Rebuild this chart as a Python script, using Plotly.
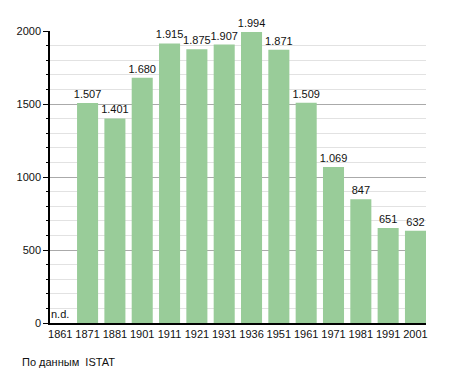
import plotly.graph_objects as go

years = ["1861", "1871", "1881", "1901", "1911", "1921", "1931", "1936",
         "1951", "1961", "1971", "1981", "1991", "2001"]
population = [None, 1507, 1401, 1680, 1915, 1875, 1907, 1994,
              1871, 1509, 1069, 847, 651, 632]
labels = ["n.d.", "1.507", "1.401", "1.680", "1.915", "1.875", "1.907", "1.994",
          "1.871", "1.509", "1.069", "847", "651", "632"]
source_note = "По данным  ISTAT"

FONT = "Liberation Sans, Arial, sans-serif"

# page body has an 8px margin, so the figure is drawn 8px in from the corner
W, H = 447, 365
L, T, PW, PH = 42, 23, 376, 292

fig = go.Figure()
fig.add_trace(go.Bar(
    x=years, y=population,
    text=[l if v is not None else "" for l, v in zip(labels, population)],
    textposition="outside",
    constraintext="none",
    textfont=dict(size=11, color="#111", family=FONT),
    marker=dict(color="#99CC99", line=dict(width=0)),
    cliponaxis=False,
    hoverinfo="skip",
))
for i, (v, l) in enumerate(zip(population, labels)):
    if v is None:
        fig.add_annotation(x=i, y=0, xref="x", yref="y", text=l, showarrow=False,
                           yanchor="bottom", yshift=1,
                           font=dict(size=11, color="#111", family=FONT))

fig.add_annotation(xref="paper", yref="paper", x=(12 - L) / PW, y=-(354 - T - PH) / PH,
                   xanchor="left", yanchor="middle", text=source_note, showarrow=False,
                   font=dict(size=11, color="#111", family=FONT))

fig.update_layout(
    width=W, height=H,
    margin=dict(l=L, r=W - L - PW, t=T, b=H - T - PH, autoexpand=False),
    paper_bgcolor="white", plot_bgcolor="white",
    bargap=0.23,
    showlegend=False,
    font=dict(family=FONT, size=11, color="#111"),
)
fig.update_xaxes(
    type="category", range=[-0.375, 13.385],
    showline=True, linecolor="black", linewidth=1.5,
    ticks="", showgrid=False,
    tickfont=dict(size=11, color="#111"),
)
fig.update_yaxes(
    range=[0, 2000], tickvals=[0, 500, 1000, 1500, 2000],
    showline=True, linecolor="black", linewidth=1.5,
    ticks="outside", ticklen=5, tickcolor="black", tickwidth=1,
    showgrid=True, gridcolor="#aaaaaa", gridwidth=1,
    zeroline=False,
    tickfont=dict(size=11, color="#111"),
    minor=dict(dtick=100, showgrid=True, gridcolor="#e2e2e2", gridwidth=1,
               ticks="outside", ticklen=2, tickcolor="black"),
)

fig.write_html("out.html")
